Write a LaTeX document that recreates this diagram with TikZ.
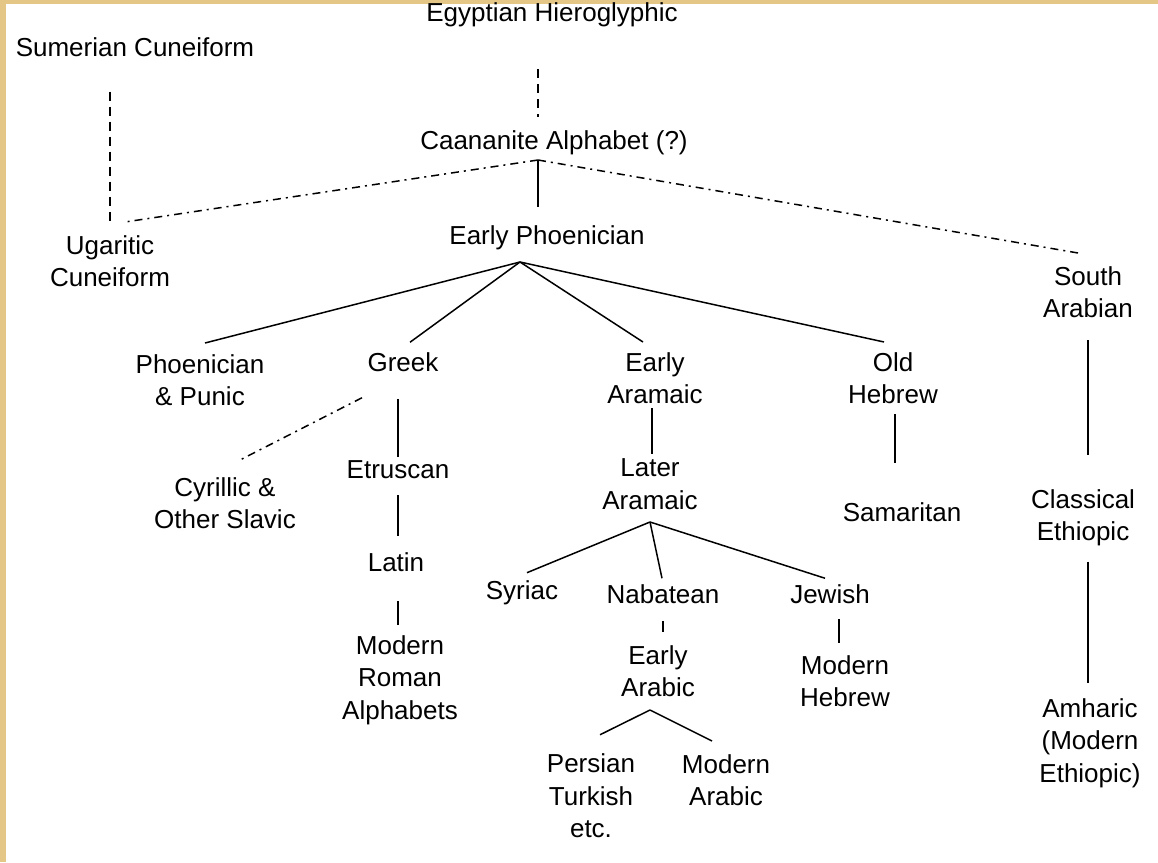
\documentclass[tikz,border=0pt]{standalone}
\usepackage{fontspec}
\setmainfont{Liberation Sans}
\definecolor{parch}{RGB}{228,198,135}
\begin{document}
\begin{tikzpicture}[x=1pt,y=-1pt,
  lbl/.style={font=\fontsize{26}{32.5}\selectfont, align=center, inner sep=4pt},
  link/.style={line width=1.5pt},
  dashlink/.style={line width=1.5pt, dash pattern=on 9pt off 6pt},
  dotlink/.style={line width=1.5pt, dash pattern=on 8pt off 5pt on 2pt off 5pt}]
\fill[parch] (0,0) rectangle (1158,862);
\fill[white] (6,4) rectangle (1158,862);
\useasboundingbox (0,0) rectangle (1158,862);

% nodes
\node[lbl] (sum) at (135,47) {Sumerian Cuneiform};
\node[lbl] (egy) at (552,15) {Egyptian Hieroglyphic};
\node[lbl] (can) at (554,143) {Caananite Alphabet (?)};
\node[lbl] (eph) at (547,238) {Early Phoenician};
\node[lbl] (uga) at (110,261) {Ugaritic\\Cuneiform};
\node[lbl] (sar) at (1088,292) {South\\Arabian};
\node[lbl] (pun) at (200,380) {Phoenician\\\& Punic};
\node[lbl] (gre) at (403,362) {Greek};
\node[lbl] (ear) at (655,378) {Early\\Aramaic};
\node[lbl] (olh) at (893,378) {Old\\Hebrew};
\node[lbl] (cyr) at (225,503) {Cyrillic \&\\Other Slavic};
\node[lbl] (etr) at (398,470) {Etruscan};
\node[lbl] (lat) at (396,562) {Latin};
\node[lbl] (mra) at (400,680) {Modern\\Roman\\Alphabets};
\node[lbl] (lar) at (650,484) {Later\\Aramaic};
\node[lbl] (syr) at (522,593) {Syriac};
\node[lbl] (nab) at (663,594) {Nabatean};
\node[lbl] (jew) at (830,594) {Jewish};
\node[lbl] (eab) at (658,671) {Early\\Arabic};
\node[lbl] (per) at (591,796) {Persian\\Turkish\\etc.};
\node[lbl] (mab) at (726,780) {Modern\\Arabic};
\node[lbl] (mhe) at (845,681) {Modern\\Hebrew};
\node[lbl] (sam) at (902,512) {Samaritan};
\node[lbl] (cet) at (1083,518) {Classical\\Ethiopic};
\node[lbl] (amh) at (1090,743) {Amharic\\(Modern\\Ethiopic)};

% junctions and free ends
\coordinate (jc) at (538,160);
\coordinate (jp) at (520,262);
\coordinate (jl) at (650,522);
\coordinate (ja) at (650,710);
\coordinate (ugtop) at (110,222);
\coordinate (ugend) at (125,222);
\coordinate (saend) at (1078,253);
\coordinate (gx) at (398,0);
\coordinate (lx) at (652,0);
\coordinate (jx) at (839,0);
\coordinate (ox) at (895,0);

% connectors
\draw[dashlink, shorten <=38pt, shorten >=10pt] (egy.south -| jc) -- (can.north -| jc);
\draw[dashlink, shorten <=31pt] (sum.south -| ugtop) -- (ugtop);
\draw[dotlink] (jc) -- (ugend);
\draw[dotlink] (jc) -- (saend);
\draw[link, shorten >=15pt] (jc) -- (eph.north -| jc);
\draw[link] (jp) -- ([shift={(5,-7)}]pun.north);
\draw[link] (jp) -- ([shift={(7,-6)}]gre.north);
\draw[link] (jp) -- ([shift={(-12,-6)}]ear.north);
\draw[link] (jp) -- ([shift={(-9,-6)}]olh.north);
\draw[dotlink] ([shift={(-41,22)}]gre.south) -- ([shift={(13,-12)}]cyr.north);
\draw[link, shorten <=23pt] (gre.south -| gx) -- (etr.north -| gx);
\draw[link, shorten <=12pt, shorten >=12pt] (etr.south -| gx) -- (lat.north -| gx);
\draw[link, shorten <=25pt, shorten >=6pt] (lat.south -| gx) -- (mra.north -| gx);
\draw[link] (ear.south -| lx) -- (lar.north -| lx);
\draw[link] (jl) -- ([shift={(5,-4)}]syr.north);
\draw[link] (jl) -- ([shift={(-1,-2)}]nab.north);
\draw[link] (jl) -- ([shift={(-5,-2)}]jew.north);
\draw[link, shorten <=13pt, shorten >=9pt] (nab.south) -- (eab.north -| nab);
\draw[link, shorten <=11pt, shorten >=8pt] (jew.south -| jx) -- (mhe.north -| jx);
\draw[link] (ja) -- ([shift={(9,-15)}]per.north);
\draw[link] (ja) -- ([shift={(-14,-9)}]mab.north);
\draw[link, shorten <=6pt, shorten >=35pt] (olh.south -| ox) -- (sam.north -| ox);
\draw[link, shorten <=18pt, shorten >=30pt] (sar.south) -- (cet.north -| sar);
\draw[link, shorten <=11pt, shorten >=11pt] (cet.south -| sar) -- (amh.north -| sar);
\end{tikzpicture}
\end{document}
